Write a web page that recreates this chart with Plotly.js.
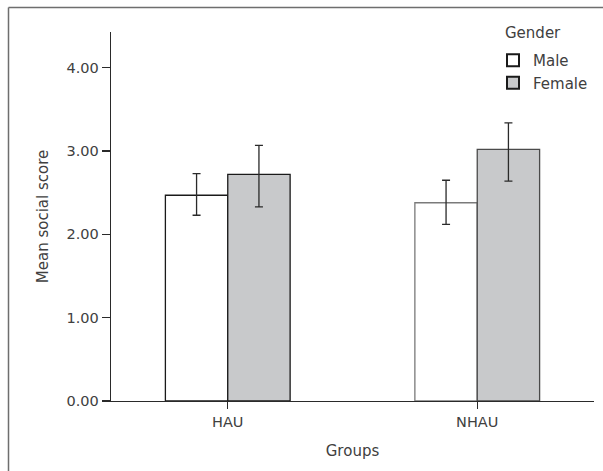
<!DOCTYPE html>
<html>
<head>
<meta charset="utf-8">
<script src="https://cdn.plot.ly/plotly-3.0.1.min.js"></script>
<style>html,body{margin:0;padding:0;background:#fff;}#chart{width:603px;height:471px;}</style>
</head>
<body>
<div id="chart"></div>
<script>
const groups = ["HAU", "NHAU"];
const maleMeans = [2.47, 2.38];
const maleUpper = [2.73, 2.65];
const maleLower = [2.23, 2.12];
const femaleMeans = [2.72, 3.02];
const femaleUpper = [3.07, 3.34];
const femaleLower = [2.33, 2.64];
const yTickVals = [0, 1, 2, 3, 4];
const yTickText = ["0.00", "1.00", "2.00", "3.00", "4.00"];
const legendTitle = "Gender";

const FONT = "DejaVu Sans, sans-serif";
const TXT = "#404040";

function plus(m, u) { return u.map((v, i) => +(v - m[i]).toFixed(3)); }
function minus(m, l) { return l.map((v, i) => +(m[i] - v).toFixed(3)); }

const traces = [
  {
    type: "bar", name: "Male", x: groups, y: maleMeans,
    marker: { color: "#ffffff", line: { color: ["#1a1a1a", "#7a7a7a"], width: 1.3 } },
    error_y: { type: "data", symmetric: false, array: plus(maleMeans, maleUpper), arrayminus: minus(maleMeans, maleLower), color: "#2a2a2a", thickness: 1.3, width: 4 }
  },
  {
    type: "bar", name: "Female", x: groups, y: femaleMeans,
    marker: { color: "#c8c9cb", line: { color: ["#1a1a1a", "#4a4a4a"], width: 1.3 } },
    error_y: { type: "data", symmetric: false, array: plus(femaleMeans, femaleUpper), arrayminus: minus(femaleMeans, femaleLower), color: "#2a2a2a", thickness: 1.3, width: 4 }
  }
];

const W = 603, H = 471, ml = 111, mr = 9, mt = 32, mb = 70;
const pw = W - ml - mr, ph = H - mt - mb;
function px(xpix) { return (xpix - ml) / pw; }
function py(ypix) { return (H - mb - ypix) / ph; }

const layout = {
  width: W, height: H,
  margin: { l: ml, r: mr, t: mt, b: mb, pad: 0 },
  paper_bgcolor: "#ffffff", plot_bgcolor: "#ffffff",
  font: { family: FONT, size: 15, color: TXT },
  barmode: "group", bargap: 0.5, bargroupgap: 0,
  showlegend: true,
  legend: {
    x: px(493), y: py(44), xanchor: "left", yanchor: "top",
    font: { family: FONT, size: 15, color: TXT },
    bgcolor: "rgba(0,0,0,0)", borderwidth: 0,
    tracegroupgap: 0, itemsizing: "constant"
  },
  annotations: [
    { text: legendTitle, xref: "paper", yref: "paper", x: px(503), y: py(33), xanchor: "left", yanchor: "middle", showarrow: false, font: { family: FONT, size: 15, color: TXT } }
  ],
  xaxis: {
    type: "category", range: [-0.468, 1.468],
    showline: true, linecolor: "#2a2a2a", linewidth: 1.3,
    ticks: "outside", ticklen: 7, tickwidth: 1.3, tickcolor: "#2a2a2a",
    showgrid: false, zeroline: false, fixedrange: true,
    tickfont: { family: FONT, size: 14.5, color: TXT },
    title: { text: "Groups", font: { family: FONT, size: 15, color: TXT }, standoff: 16 }
  },
  yaxis: {
    range: [0, 4.43],
    tickvals: yTickVals, ticktext: yTickText,
    showline: true, linecolor: "#2a2a2a", linewidth: 1.3,
    ticks: "outside", ticklen: 8, tickwidth: 1.3, tickcolor: "#2a2a2a",
    showgrid: false, zeroline: false, fixedrange: true,
    tickfont: { family: FONT, size: 14.5, color: TXT },
    title: { text: "Mean social score", font: { family: FONT, size: 15, color: TXT }, standoff: 14 }
  },
  shapes: [
    { type: "line", xref: "paper", yref: "paper", x0: px(8.5), x1: px(8.5), y0: py(7.5), y1: py(475), line: { color: "#6e6e6e", width: 1.5 } },
    { type: "line", xref: "paper", yref: "paper", x0: px(8.5), x1: px(610), y0: py(7.5), y1: py(7.5), line: { color: "#6e6e6e", width: 1.5 } }
  ]
};

Plotly.newPlot("chart", traces, layout, { displayModeBar: false, staticPlot: true });
</script>
</body>
</html>
